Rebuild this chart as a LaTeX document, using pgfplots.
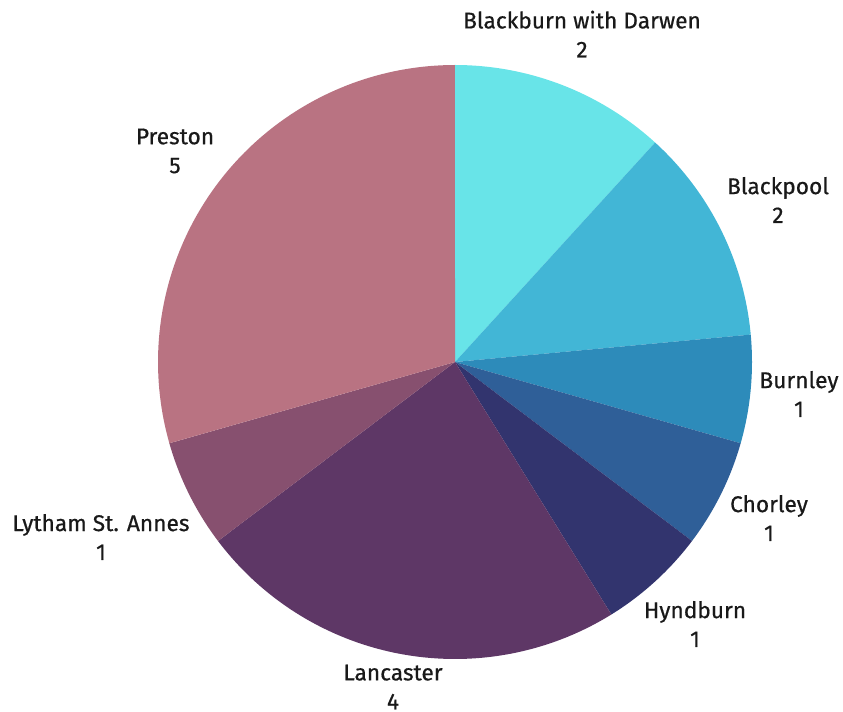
\documentclass[border=0pt]{standalone}
\usepackage{pgfplots}
\usepackage{pgfplotstable}
\usepackage{fontspec}
\pgfplotsset{compat=1.18}
\setmainfont{Fira Sans}[FakeBold=0.6]

\definecolor{pc0}{HTML}{68E4E8}
\definecolor{pc1}{HTML}{42B6D6}
\definecolor{pc2}{HTML}{2D8BBA}
\definecolor{pc3}{HTML}{2F5F98}
\definecolor{pc4}{HTML}{32346E}
\definecolor{pc5}{HTML}{5E3766}
\definecolor{pc6}{HTML}{87506F}
\definecolor{pc7}{HTML}{B97382}

% slices, clockwise from 12 o'clock
\pgfplotstableread[col sep=comma]{
name,value
Blackburn with Darwen,2
Blackpool,2
Burnley,1
Chorley,1
Hyndburn,1
Lancaster,4
Lytham St. Annes,1
Preston,5
}\pietable

\tikzset{lbl/.style={font=\fontsize{22.8}{29}\selectfont, text=black!90, align=center, inner sep=0pt}}

\begin{document}
\begin{tikzpicture}
\begin{axis}[
    scale only axis, width=843bp, height=712bp,
    xmin=0, xmax=843, ymin=0, ymax=712,
    hide axis, clip=false,
]
% keep the page as large as the axis box
\path[draw=none] (axis cs:0,0) rectangle (axis cs:843,712);
\pgfplotstablegetrowsof{\pietable}
\pgfmathtruncatemacro\N{\pgfplotsretval-1}
\def\total{17}
\def\start{90}
\pgfplotsforeachungrouped \i in {0,...,\N}{%
    \pgfplotstablegetelem{\i}{value}\of\pietable
    \pgfmathsetmacro\stop{\start-\pgfplotsretval/\total*360}%
    \edef\slice{\noexpand\addplot[fill=pc\i, draw=none, domain=\stop:\start,
        samples=90, variable=\noexpand\t]
        ({455+297*cos(\noexpand\t)}, {350+297*sin(\noexpand\t)})
        -- (axis cs:455,350) -- cycle;}%
    \slice
    \global\let\start\stop
}
\node[lbl] at (axis cs:582,678) {Blackburn with Darwen\\2};
\node[lbl] at (axis cs:778,512) {Blackpool\\2};
\node[lbl] at (axis cs:799,318) {Burnley\\1};
\node[lbl] at (axis cs:769,194) {Chorley\\1};
\node[lbl] at (axis cs:695,88) {Hyndburn\\1};
\node[lbl] at (axis cs:393,25) {Lancaster\\4};
\node[lbl] at (axis cs:101,175) {Lytham St. Annes\\1};
\node[lbl] at (axis cs:175,561) {Preston\\5};
\end{axis}
\end{tikzpicture}
\end{document}
